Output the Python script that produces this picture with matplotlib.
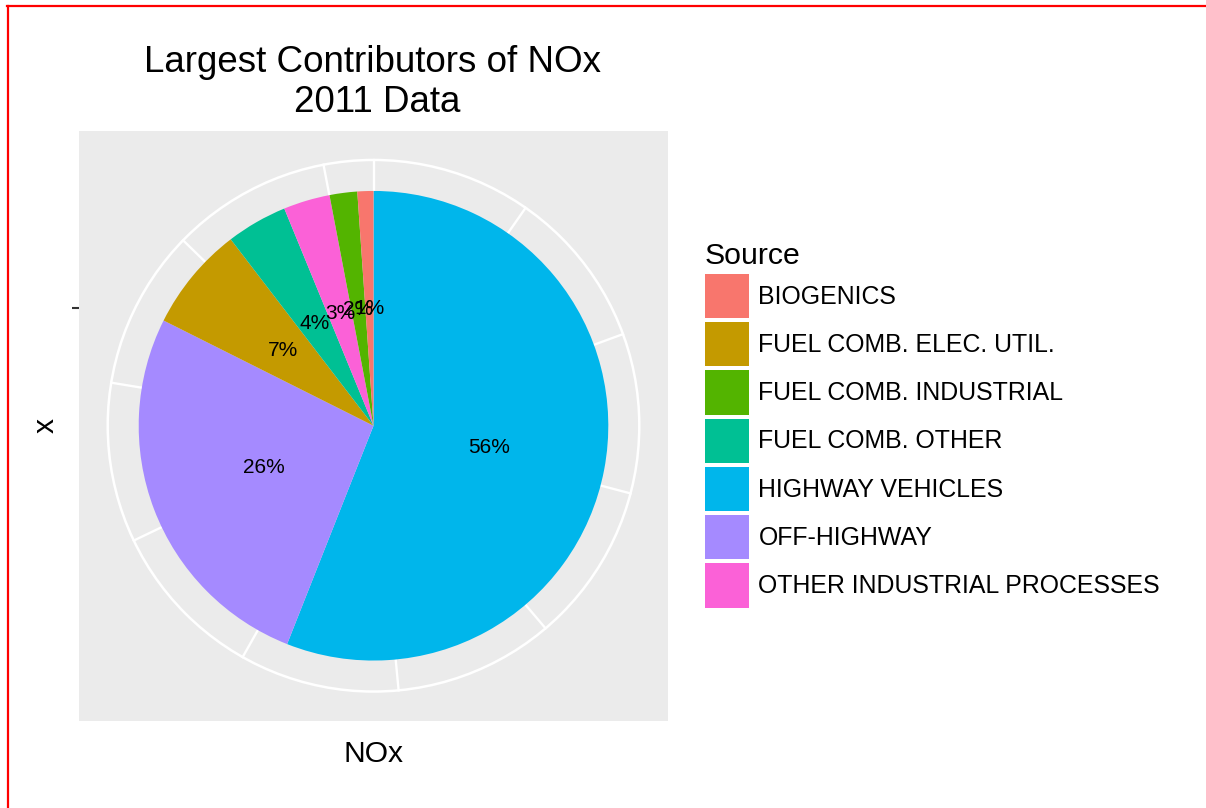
import numpy as np
import matplotlib
matplotlib.use('Agg')
import matplotlib.pyplot as plt
import matplotlib.patches as mpatches
from matplotlib.lines import Line2D

plt.rcParams['font.family'] = ['Liberation Sans', 'DejaVu Sans']

# NOx emissions 2011 (thousand tons), ordered as drawn (largest first)
sources = ['HIGHWAY VEHICLES', 'OFF-HIGHWAY', 'FUEL COMB. ELEC. UTIL.',
           'FUEL COMB. OTHER', 'OTHER INDUSTRIAL PROCESSES',
           'FUEL COMB. INDUSTRIAL', 'BIOGENICS']
nox = [11547, 5444, 1485, 866, 660, 392, 227]
colors = ['#00B6EB', '#A58AFF', '#C49A00', '#00C094', '#FB61D7', '#53B400', '#F8766D']
breaks = [0, 2000, 4000, 6000, 8000, 10000, 12000, 14000, 16000, 18000, 20000]

W, H = 1206, 808
fig = plt.figure(figsize=(W / 100, H / 100), dpi=100)

# panel in pixel coords
px_l, px_t, px_w, px_h = 78.5, 131, 590, 589.5
ax = fig.add_axes([px_l / W, 1 - (px_t + px_h) / H, px_w / W, px_h / H])

total = sum(nox)
wedges, texts, autotexts = ax.pie(
    nox, colors=colors, startangle=90, counterclock=False, radius=1,
    autopct=lambda p: '%d%%' % round(p), pctdistance=0.5,
    wedgeprops={'linewidth': 0}, textprops={'fontsize': 15, 'color': 'black'})

# ggplot-like grey panel + white grid
ax.set_frame_on(True)
ax.set_facecolor('#EBEBEB')
for s in ax.spines.values():
    s.set_visible(False)
r_out = 1.132
for b in breaks:
    a = np.deg2rad(90 - 360.0 * b / total)
    ax.plot([0, r_out * np.cos(a)], [0, r_out * np.sin(a)], color='white', lw=1.7, zorder=0.5)
ax.add_patch(mpatches.Circle((0, 0), r_out, fill=False, ec='white', lw=1.8, zorder=0.5))

L = (px_w / 2) / 235.0
ax.set_xlim(-L, L)
ax.set_ylim(-L, L)
ax.set_aspect('equal')

ax.set_xticks([])
ax.set_yticks([0.5])
ax.set_yticklabels([''])
ax.tick_params(axis='y', length=5, width=1.5, color='#333333')
ax.set_xlabel('NOx', fontsize=21.6, labelpad=14)
ax.set_ylabel('x', fontsize=21.6, labelpad=5.5)

# title
fig.text(373 / W, 1 - 72.5 / H, 'Largest Contributors of NOx', ha='center', va='baseline', fontsize=26.5)
fig.text(377 / W, 1 - 111.5 / H, '2011 Data', ha='center', va='baseline', fontsize=26.5)

# legend (alphabetical like ggplot)
order = sorted(range(len(sources)), key=lambda i: sources[i])
handles = [mpatches.Patch(facecolor=colors[i], edgecolor='none') for i in order]
labels = [sources[i] for i in order]
fig.legend(handles, labels, loc='upper left', bbox_to_anchor=(704.7 / W, 1 - 242 / H),
           frameon=False, fontsize=17.9, title='Source', title_fontsize=21.8,
           handlelength=1.79, handleheight=2.37, labelspacing=0.155,
           handletextpad=0.37, borderpad=0, borderaxespad=0, alignment='left')

# red border of the screenshot
fig.add_artist(Line2D([7.8 / W, 7.8 / W], [0, 1 - 5.7 / H], color='#FF0000', lw=1.6, transform=fig.transFigure))
fig.add_artist(Line2D([7 / W, 1], [1 - 5.7 / H, 1 - 5.7 / H], color='#FF0000', lw=1.6, transform=fig.transFigure))

fig.savefig('out.png', dpi=100)
